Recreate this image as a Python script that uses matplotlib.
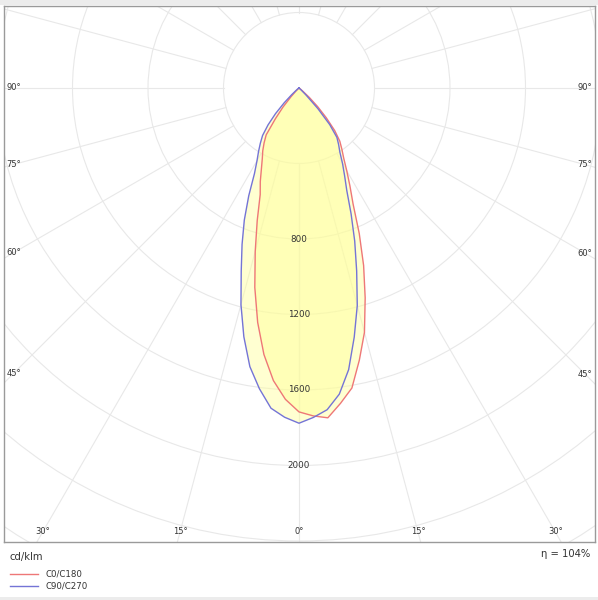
import numpy as np
import matplotlib
matplotlib.use("Agg")
import matplotlib.pyplot as plt
from matplotlib.patches import Circle, Rectangle
from matplotlib.lines import Line2D

# luminous intensity, cd/klm, gamma 0..90 every 2.5 deg
gamma = np.arange(0, 92.5, 2.5)
c0 = [1716, 1739, 1754, 1685, 1614, 1477, 1340, 1166, 1001, 834, 678, 584, 506, 441, 396, 355,
      294, 214, 140, 74, 26, 11, 5, 0, 0, 0, 0, 0, 0, 0, 0, 0, 0, 0, 0, 0, 0]
c180 = [1716, 1651, 1556, 1424, 1261, 1082, 896, 736, 601, 536, 471, 421, 384, 344, 303, 206,
        132, 64, 26, 5, 0, 0, 0, 0, 0, 0, 0, 0, 0, 0, 0, 0, 0, 0, 0, 0, 0]
c90 = [1776, 1747, 1711, 1636, 1515, 1352, 1193, 1016, 863, 721, 599, 523, 461, 403, 366, 330,
       253, 148, 53, 16, 0, 0, 0, 0, 0, 0, 0, 0, 0, 0, 0, 0, 0, 0, 0, 0, 0]
c270 = [1776, 1746, 1703, 1607, 1499, 1350, 1188, 1018, 882, 757, 630, 511, 445, 399, 357, 317,
        255, 184, 111, 53, 21, 11, 5, 0, 0, 0, 0, 0, 0, 0, 0, 0, 0, 0, 0, 0, 0]

rings = [400, 800, 1200, 1600, 2000, 2400, 2800, 3200]
ring_labels = [800, 1200, 1600, 2000]
angle_labels = [0, 15, 30, 45, 60, 75, 90]
units = "cd/klm"
eta = "η = 104%"
series = ["C0/C180", "C90/C270"]

red = "#ee7777"
blue = "#7474d6"
grid = "#e8e8e8"
txt = "#333333"


def to_xy(left, right):
    g = np.radians(gamma)
    l = np.asarray(left, float)
    r = np.asarray(right, float)
    x = np.concatenate([-(l * np.sin(g))[::-1], (r * np.sin(g))[1:]])
    y = np.concatenate([-(l * np.cos(g))[::-1], -(r * np.cos(g))[1:]])
    return x, y


W, H = 598, 600
fig = plt.figure(figsize=(W / 100, H / 100), dpi=100)
ax = fig.add_axes([4 / W, 58 / H, 591 / W, 536 / H])

px = 400 / 75.5  # cd/klm per pixel
xl, xr, yt, yb = 295 * px, 296 * px, 82 * px, 454 * px
ax.set_xlim(-xl, xr)
ax.set_ylim(-yb, yt)
ax.set_xticks([])
ax.set_yticks([])
for s in ax.spines.values():
    s.set_color("#9a9a9a")
    s.set_linewidth(1)

# grid
for r in rings:
    ax.add_patch(Circle((0, 0), r, fill=False, color=grid, lw=0.8, zorder=1))
for a in np.radians(np.arange(0, 360, 15)):
    ax.plot([400 * np.sin(a), 4000 * np.sin(a)], [-400 * np.cos(a), -4000 * np.cos(a)],
            color=grid, lw=0.8, zorder=1)

# curves
xa, ya = to_xy(c180, c0)
xb, yb2 = to_xy(c270, c90)
ax.fill(xa, ya, color="#ffff99", alpha=0.45, lw=0, zorder=2)
ax.fill(xb, yb2, color="#ffff99", alpha=0.45, lw=0, zorder=2)
ax.plot(xa, ya, color=red, lw=1, zorder=3)
ax.plot(xb, yb2, color=blue, lw=1, zorder=3)

for r in ring_labels:
    ax.text(0, -r, str(r), ha="center", va="center", fontsize=6.3, color=txt, zorder=4)

# angle labels where the rays meet the frame (10 px inset)
pad = 10 * px
for a in angle_labels:
    g = np.radians(a)
    sides = [-1, 1] if a else [1]
    for sgn in sides:
        xe = (xl if sgn < 0 else xr) - pad
        t = []
        if np.sin(g) > 1e-9:
            t.append(xe / np.sin(g))
        if np.cos(g) > 1e-9:
            t.append((yb - pad) / np.cos(g))
        tt = min(t)
        ax.text(sgn * tt * np.sin(g), -tt * np.cos(g), f"{a}°", ha="center", va="center",
                fontsize=6, color=txt)

# captions and legend
fig.text(10 / W, 1 - 557 / H, units, ha="left", va="center", fontsize=7.2, color=txt)
fig.text(590 / W, 1 - 554 / H, eta, ha="right", va="center", fontsize=7.2, color=txt)
for i, (name, col) in enumerate(zip(series, [red, blue])):
    yy = 1 - (574 + 12 * i) / H
    fig.add_artist(Line2D([10 / W, 38 / W], [yy, yy], color=col, lw=1))
    fig.text(45 / W, yy, name, ha="left", va="center", fontsize=6.2, color=txt)

fig.add_artist(Rectangle((0, 1 - 5 / H), 1, 5 / H, transform=fig.transFigure, color="#ececec", lw=0))
fig.add_artist(Rectangle((0, 0), 1, 3 / H, transform=fig.transFigure, color="#ececec", lw=0))

fig.savefig("out.png", dpi=100)
